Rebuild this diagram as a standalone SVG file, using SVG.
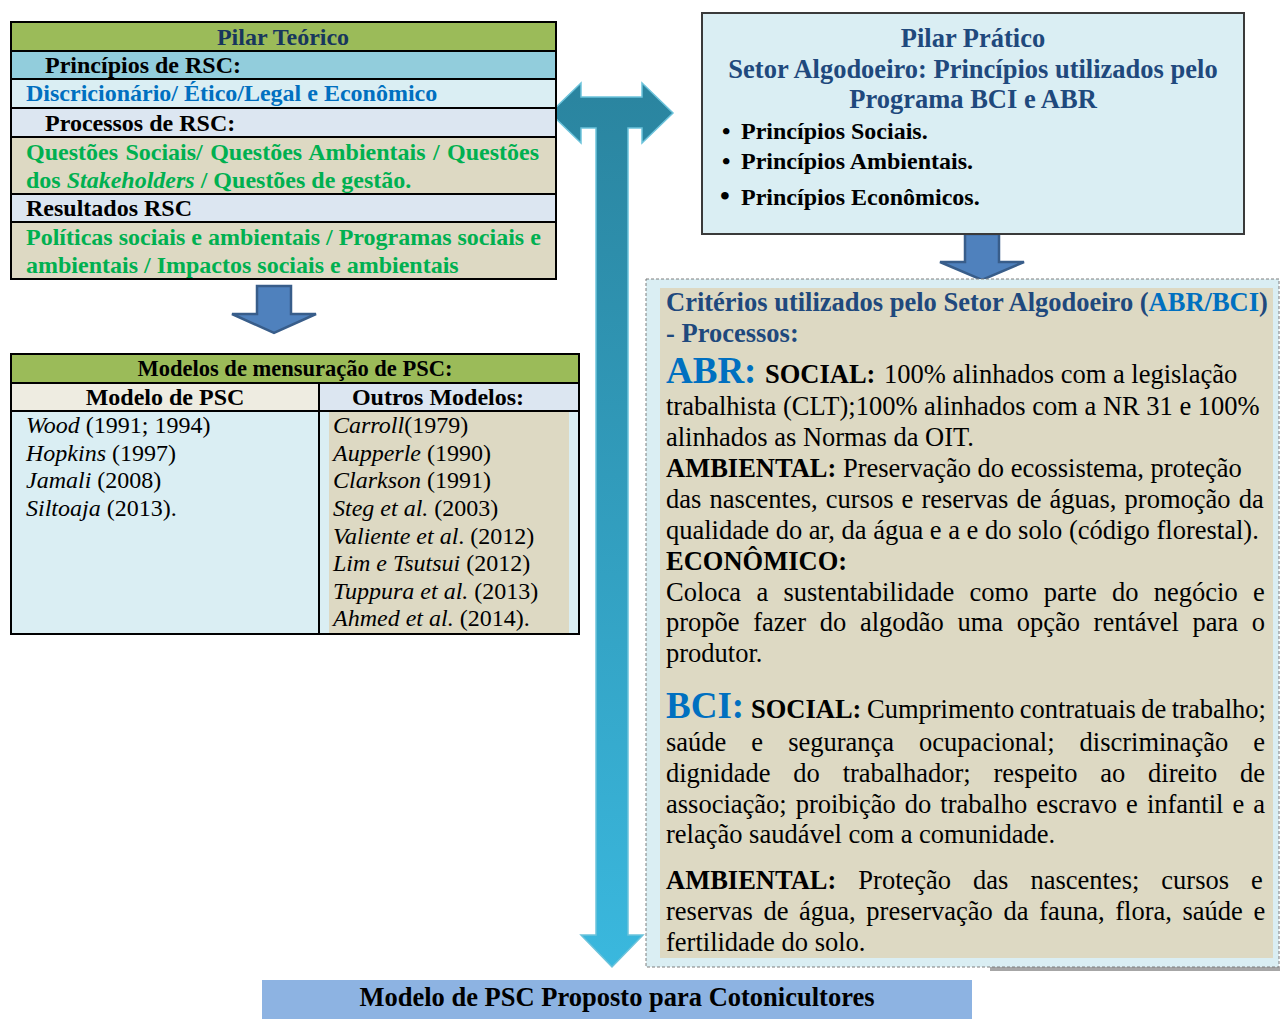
<svg xmlns="http://www.w3.org/2000/svg" width="1280" height="1019" viewBox="0 0 1280 1019">
<style>
.t{font-family:"Liberation Serif","Times New Roman",serif;}
.b{font-weight:bold;}
.i{font-style:italic;}
.s24{font-size:24px;}
.s26{font-size:26.5px;}
.big{font-size:37px;font-weight:bold;fill:#0070C0;}
.navy{fill:#1F497D;}
.blue{fill:#0070C0;}
.green{fill:#00B050;}
.cell{stroke:#000;stroke-width:2;}
.arr{fill:#4F81BD;stroke:#385D8A;stroke-width:2.5;}
</style>
<defs>
<linearGradient id="tg" x1="0" y1="83" x2="0" y2="967" gradientUnits="userSpaceOnUse">
<stop offset="0" stop-color="#2A849F"/>
<stop offset="1" stop-color="#3AB8DE"/>
</linearGradient>
</defs>
<rect width="1280" height="1019" fill="#fff"/>

<g id="connectors">
<path id="t-arrow" d="M550,113 L581,83 L581,97 L642,97 L642,83 L673,113 L642,143 L642,128 L628,128 L628,935 L643,935 L612,967 L581,935 L596,935 L596,128 L581,128 L581,143 Z" fill="url(#tg)" stroke="#6CC3DB" stroke-width="1.5"/>
<path id="arrow-left-down" class="arr" d="M257,286 L291,286 L291,314 L316,314 L274,333 L232,314 L257,314 Z"/>
<path id="arrow-right-down" class="arr" d="M965,234 L999,234 L999,262 L1024,262 L982,280 L940,262 L965,262 Z"/>
</g>

<g id="pilar-teorico" class="t b s24">
<rect x="11" y="22" width="545" height="29" fill="#9BBB59"/>
<rect x="11" y="51" width="545" height="28" fill="#92CDDC"/>
<rect x="11" y="79" width="545" height="29" fill="#DAEEF3"/>
<rect x="11" y="108" width="545" height="29" fill="#DCE6F1"/>
<rect x="11" y="137" width="545" height="57" fill="#DDD9C3"/>
<rect x="11" y="194" width="545" height="28" fill="#DCE6F1"/>
<rect x="11" y="222" width="545" height="57" fill="#DDD9C3"/>
<g class="cell" fill="none">
<rect x="11" y="22" width="545" height="257"/>
<path d="M11,51H556M11,79H556M11,108H556M11,137H556M11,194H556M11,222H556"/>
</g>
<text x="283" y="45" text-anchor="middle" fill="#17365D">Pilar Teórico</text>
<text x="45" y="73">Princípios de RSC:</text>
<text x="26" y="101" class="blue">Discricionário/ Ético/Legal e Econômico</text>
<text x="45" y="131">Processos de RSC:</text>
<text x="26" y="160" class="green" word-spacing="1.4">Questões Sociais/ Questões Ambientais / Questões</text>
<text x="26" y="188" class="green">dos <tspan class="i">Stakeholders</tspan> / Questões de gestão.</text>
<text x="26" y="216">Resultados RSC</text>
<text x="26" y="245" class="green">Políticas sociais e ambientais / Programas sociais e</text>
<text x="26" y="273" class="green">ambientais / Impactos sociais e ambientais</text>
</g>

<g id="modelos" class="t s24">
<rect x="11" y="354" width="568" height="29" fill="#9BBB59"/>
<rect x="11" y="383" width="308" height="28" fill="#EEECE1"/>
<rect x="319" y="383" width="260" height="28" fill="#DCE6F1"/>
<rect x="11" y="411" width="568" height="223" fill="#DAEEF3"/>
<rect x="329" y="412" width="240" height="222" fill="#DDD9C3"/>
<g class="cell" fill="none">
<rect x="11" y="354" width="568" height="280"/>
<path d="M11,383H579M11,411H579M319,383V634"/>
</g>
<text x="295" y="376" text-anchor="middle" class="b" style="font-size:22.5px">Modelos de mensuração de PSC:</text>
<text x="165" y="405" text-anchor="middle" class="b">Modelo de PSC</text>
<text x="438" y="405" text-anchor="middle" class="b">Outros Modelos:</text>
<text x="26" y="433"><tspan class="i">Wood</tspan> (1991; 1994)</text>
<text x="26" y="461"><tspan class="i">Hopkins</tspan> (1997)</text>
<text x="26" y="488"><tspan class="i">Jamali</tspan> (2008)</text>
<text x="26" y="516"><tspan class="i">Siltoaja</tspan> (2013).</text>
<text x="333" y="433"><tspan class="i">Carroll</tspan>(1979)</text>
<text x="333" y="461"><tspan class="i">Aupperle</tspan>  (1990)</text>
<text x="333" y="488"><tspan class="i">Clarkson</tspan> (1991)</text>
<text x="333" y="516"><tspan class="i">Steg et al.</tspan> (2003)</text>
<text x="333" y="544"><tspan class="i">Valiente et al</tspan>. (2012)</text>
<text x="333" y="571"><tspan class="i">Lim e Tsutsui</tspan> (2012)</text>
<text x="333" y="599"><tspan class="i">Tuppura et al.</tspan> (2013)</text>
<text x="333" y="626"><tspan class="i">Ahmed et al.</tspan> (2014).</text>
</g>

<g id="pilar-pratico" class="t b">
<rect x="702" y="13" width="542" height="221" fill="#DAEEF3" stroke="#3A3A3A" stroke-width="2"/>
<g class="s26 navy" text-anchor="middle">
<text x="973" y="47">Pilar Prático</text>
<text x="973" y="78">Setor Algodoeiro: Princípios utilizados pelo</text>
<text x="973" y="108">Programa BCI e ABR</text>
</g>
<g class="s24">
<text x="722" y="139">•</text>
<text x="741" y="139">Princípios Sociais.</text>
<text x="722" y="169">•</text>
<text x="741" y="169">Princípios Ambientais.</text>
<text x="720" y="205" style="font-size:28px">•</text>
<text x="741" y="205">Princípios Econômicos.</text>
</g>
</g>

<g id="criterios" class="t s26">
<rect x="990" y="967" width="290" height="4" fill="#A6A6A6"/>
<rect x="646" y="279" width="633" height="688" fill="#DAEEF3" stroke="#7F7F7F" stroke-width="1" stroke-dasharray="3,2"/>
<rect x="660" y="288" width="613" height="670" fill="#DDD9C3"/>
<text x="666" y="311" class="b navy">Critérios utilizados pelo Setor Algodoeiro (<tspan class="blue">ABR/BCI</tspan>)</text>
<text x="666" y="342" class="b navy">- Processos:</text>
<text y="383"><tspan x="666" class="big">ABR:</tspan><tspan x="765" class="b">SOCIAL:</tspan><tspan x="884">100% alinhados com a legislação</tspan></text>
<text x="666" y="415">trabalhista (CLT);100% alinhados com a NR 31 e 100%</text>
<text x="666" y="446">alinhados as Normas da OIT.</text>
<text x="666" y="477"><tspan class="b">AMBIENTAL:</tspan> Preservação do ecossistema, proteção</text>
<text x="666" y="508" word-spacing="1.5">das nascentes, cursos e reservas de águas, promoção da</text>
<text x="666" y="539">qualidade do ar, da água e a e do solo (código florestal).</text>
<text x="666" y="570" class="b">ECONÔMICO:</text>
<text x="666" y="601" word-spacing="8.7">Coloca a sustentabilidade como parte do negócio e</text>
<text x="666" y="631" word-spacing="7">propõe fazer do algodão uma opção rentável para o</text>
<text x="666" y="662">produtor.</text>
<text y="718"><tspan x="666" class="big">BCI:</tspan><tspan x="751" class="b">SOCIAL:</tspan><tspan x="867" word-spacing="-1.2">Cumprimento contratuais de trabalho;</tspan></text>
<text x="666" y="751" word-spacing="18.4">saúde e segurança ocupacional; discriminação e</text>
<text x="666" y="782" word-spacing="16.2">dignidade do trabalhador; respeito ao direito de</text>
<text x="666" y="813" word-spacing="2.4">associação; proibição do trabalho escravo e infantil e a</text>
<text x="666" y="843">relação saudável com a comunidade.</text>
<text x="666" y="889" word-spacing="15.4"><tspan class="b">AMBIENTAL:</tspan> Proteção das nascentes; cursos e</text>
<text x="666" y="920" word-spacing="4">reservas de água, preservação da fauna, flora, saúde e</text>
<text x="666" y="951">fertilidade do solo.</text>
</g>

<g id="modelo-proposto" class="t b s26">
<rect x="262" y="980" width="710" height="39" fill="#8DB3E2"/>
<text x="617" y="1006" text-anchor="middle">Modelo de PSC Proposto para Cotonicultores</text>
</g>
</svg>
